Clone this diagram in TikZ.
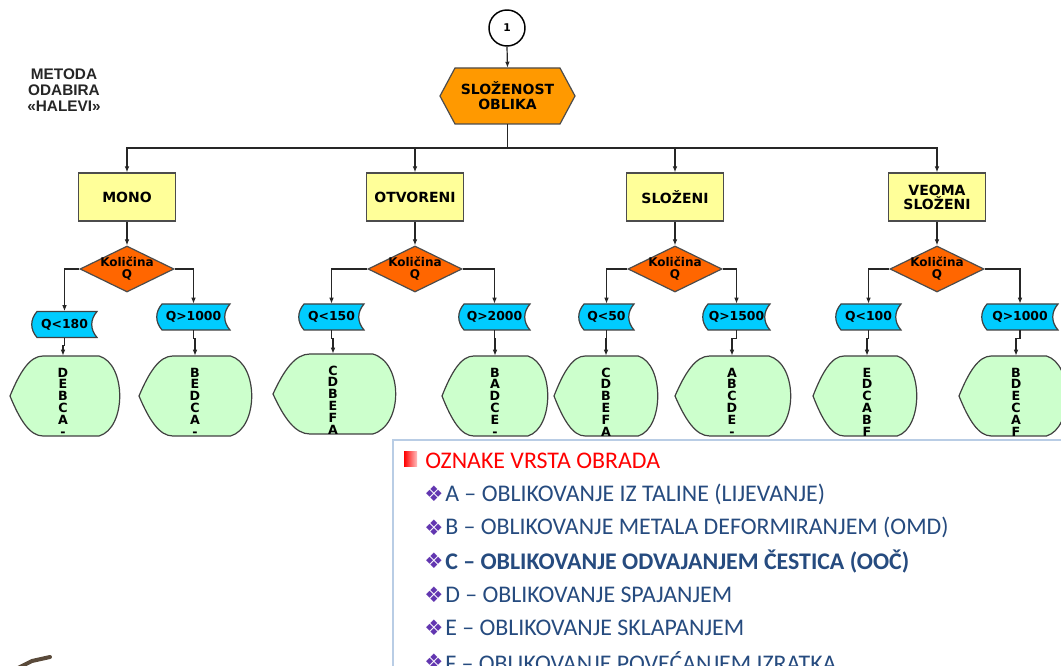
\documentclass[tikz,border=0pt]{standalone}
\usepackage{fontspec}
\setmainfont{DejaVu Sans}
\newfontfamily\dvs{DejaVu Sans}
\newfontfamily\lsans{Liberation Sans}
\newfontfamily\carl{Carlito}
\usetikzlibrary{shapes.geometric,arrows.meta}
\definecolor{boxyellow}{HTML}{FFFF99}
\definecolor{hexorange}{HTML}{FF9900}
\definecolor{diaorange}{HTML}{FF6600}
\definecolor{tapecyan}{HTML}{00CCFF}
\definecolor{leafgreen}{HTML}{CCFFCC}
\definecolor{legendblue}{HTML}{264B7F}
\definecolor{bulletviolet}{HTML}{6236B0}
\definecolor{frameblue}{HTML}{B9CDE5}
\definecolor{scribble}{HTML}{5A4A3A}
\tikzset{
  conn/.style={line width=0.9pt, draw=black!85},
  arr/.style={conn, -{Latex[length=4.5pt,width=3.5pt]}},
  ybox/.style={draw=black!70, line width=0.9pt, fill=boxyellow, minimum width=72.75pt, minimum height=36pt, inner sep=0pt, align=center, font={\dvs\bfseries\fontsize{10.5pt}{10.5pt}\selectfont}},
  dia/.style={diamond, draw=black!70, line width=0.9pt, fill=diaorange, minimum width=70.5pt, minimum height=34.5pt, inner sep=0pt},
  diatext/.style={align=center, inner sep=0pt, font={\dvs\bfseries\fontsize{9pt}{9pt}\selectfont}},
  tapefill/.style={draw=black!75, line width=0.9pt, fill=tapecyan},
  tapetext/.style={inner sep=0pt, minimum height=19.5pt, font={\dvs\bfseries\fontsize{9.3pt}{9.3pt}\selectfont}},
  leaffill/.style={draw=black!75, line width=0.9pt, fill=leafgreen},
  leaftext/.style={align=center, inner sep=0pt, font={\dvs\bfseries\fontsize{9.5pt}{8.85pt}\selectfont}},
  leafanchor/.style={inner sep=0pt, minimum width=1pt, minimum height=60pt},
  circ/.style={circle, draw=black, line width=1.1pt, fill=white, minimum size=27pt, inner sep=0pt, font={\dvs\bfseries\fontsize{8pt}{8pt}\selectfont}},
  hexfill/.style={draw=black!70, line width=0.9pt, fill=hexorange},
  hextext/.style={align=center, inner sep=0pt, minimum height=42pt, font={\dvs\bfseries\fontsize{10.5pt}{11.25pt}\selectfont}},
  metoda/.style={align=center, inner sep=0pt, font={\lsans\bfseries\fontsize{11.5pt}{12pt}\selectfont}, text=black!85},
  legtext/.style={anchor=west, inner sep=0pt, font={\carl\fontsize{17.9pt}{20pt}\selectfont}, text=legendblue},
  legbold/.style={legtext, font={\carl\bfseries\fontsize{17.9pt}{20pt}\selectfont}},
  legbullet/.style={anchor=west, inner sep=0pt, font={\dvs\fontsize{16pt}{16pt}\selectfont}, text=bulletviolet},
}
% #1 name, #2 cx, #3 cy, #4 half width (px), #5 text
\newcommand{\tapenode}[5]{%
  \path[tapefill] (#2-#4+5,#3-13) -- (#2+#4,#3-13)
     .. controls (#2+#4-7,#3-5) and (#2+#4-7,#3+5) .. (#2+#4,#3+13)
     -- (#2-#4+5,#3+13)
     .. controls (#2-#4-2,#3+5) and (#2-#4-2,#3-5) .. (#2-#4+5,#3-13) -- cycle;
  \node[tapetext, minimum width=#4*1.5pt] (#1) at (#2,#3) {#5};
}
% #1 name, #2 cx, #3 cy, #4 half width a (px), #5 letter x, #6 letters
\newcommand{\leafnode}[6]{%
  \path[leaffill] (#2-#4,#3)
     .. controls (#2-0.82*#4,#3-24) and (#2-0.64*#4,#3-40) .. (#2-0.4*#4,#3-40)
     -- (#2+0.62*#4,#3-40)
     .. controls (#2+1.12*#4,#3-32) and (#2+1.12*#4,#3+32) .. (#2+0.62*#4,#3+40)
     -- (#2-0.4*#4,#3+40)
     .. controls (#2-0.64*#4,#3+40) and (#2-0.82*#4,#3+24) .. (#2-#4,#3) -- cycle;
  \node[leafanchor] (#1) at (#5,#3) {};
  \node[leaftext] (#1t) at (#5,#3+6) {#6};
}
\begin{document}
\begin{tikzpicture}[x=0.75pt,y=-0.75pt]
\useasboundingbox (0,0) rectangle (1061,666);
\clip (0,0) rectangle (1061,666);
\fill[white] (0,0) rectangle (1061,666);

% title
\node[metoda] (metoda) at (64,90) {METODA\\ODABIRA\\«HALEVI»};

% top
\node[circ] (c1) at (507,28) {1};
\path[hexfill] (440,96) -- (455,68) -- (560,68) -- (575,96) -- (560,124) -- (455,124) -- cycle;
\node[hextext] (hex) at (507.5,96) {SLOŽENOST\\OBLIKA};
\draw[arr] (c1.south) -- (hex.north);
\coordinate (bus) at (507.5,148);
\draw[conn] (hex.south) -- (bus);

% category boxes
\node[ybox] (b1) at (127,197) {MONO};
\node[ybox] (b2) at (415,197) {OTVORENI};
\node[ybox] (b3) at (675,197) {SLOŽENI};
\node[ybox] (b4) at (937,197) {VEOMA\\SLOŽENI};
\foreach \b in {b1,b2,b3,b4} { \draw[arr] (bus) -| (\b.north); }

% decisions
\foreach \i/\x in {1/127,2/415,3/675,4/937} {
  \node[dia] (d\i) at (\x,269) {};
  \node[diatext] (dt\i) at (\x,269) {Količina\\Q};
  \draw[arr] (b\i.south) -- (d\i.north);
}

% tapes
\tapenode{t1}{64.5}{324.5}{32.5}{Q<180}
\tapenode{t2}{193.5}{317}{36.5}{Q>1000}
\tapenode{t3}{331.5}{317}{32.5}{Q<150}
\tapenode{t4}{494.5}{317}{35.5}{Q>2000}
\tapenode{t5}{606.5}{317}{27.5}{Q<50}
\tapenode{t6}{736.5}{317}{33.5}{Q>1500}
\tapenode{t7}{868.5}{317}{32.5}{Q<100}
\tapenode{t8}{1020}{317}{38}{Q>1000}

\draw[arr] (d1.west) -| (t1.north);
\draw[arr] (d1.east) -| (t2.north);
\draw[arr] (d2.west) -| (t3.north);
\draw[arr] (d2.east) -| (t4.north);
\draw[arr] (d3.west) -| (t5.north);
\draw[arr] (d3.east) -| (t6.north);
\draw[arr] (d4.west) -| (t7.north);
\draw[arr] (d4.east) -| (t8.north);

% leaves
\leafnode{l1}{65}{396}{55}{63}{D\\E\\B\\C\\A\\-}
\leafnode{l2}{195.5}{396}{56.5}{195}{B\\E\\D\\C\\A\\-}
\leafnode{l3}{334.5}{394}{61.5}{333}{C\\D\\B\\E\\F\\A}
\leafnode{l4}{495}{396}{53}{495}{B\\A\\D\\C\\E\\-}
\leafnode{l5}{606}{396}{52}{606}{C\\D\\B\\E\\F\\A}
\leafnode{l6}{733}{396}{58}{732}{A\\B\\C\\D\\E\\-}
\leafnode{l7}{865}{396}{52}{867}{E\\D\\C\\A\\B\\F}
\leafnode{l8}{1013}{396}{54}{1016}{B\\D\\E\\C\\A\\F}

\foreach \i in {1,...,8} { \draw[arr] (t\i.south) -- ++(0,8) -| (l\i.north); }

% legend
\draw[frameblue, line width=1.4pt, fill=white] (393,440) rectangle (1080,690);
\shade[left color=red, right color=red!25] (404,452) rectangle (417,467);
\node[legtext, text=red] (lh) at (425,461) {OZNAKE VRSTA OBRADA};
\node[legbullet] (bA) at (424,494) {❖};
\node[legtext] (iA) at (445,494) {A – OBLIKOVANJE IZ TALINE (LIJEVANJE)};
\node[legbullet] (bB) at (424,527.5) {❖};
\node[legtext] (iB) at (445,527.5) {B – OBLIKOVANJE METALA DEFORMIRANJEM (OMD)};
\node[legbullet] (bC) at (424,561) {❖};
\node[legbold] (iC) at (445,561) {C – OBLIKOVANJE ODVAJANJEM ČESTICA (OOČ)};
\node[legbullet] (bD) at (424,594.5) {❖};
\node[legtext] (iD) at (445,594.5) {D – OBLIKOVANJE SPAJANJEM};
\node[legbullet] (bE) at (424,628) {❖};
\node[legtext] (iE) at (445,628) {E – OBLIKOVANJE SKLAPANJEM};
\node[legbullet] (bF) at (424,661.5) {❖};
\node[legtext] (iF) at (445,661.5) {F – OBLIKOVANJE POVEĆANJEM IZRATKA};

% partial icon at bottom left
\draw[scribble, line width=3pt, line cap=round] (18,668) -- (32,661) -- (50,657);
\end{tikzpicture}
\end{document}
